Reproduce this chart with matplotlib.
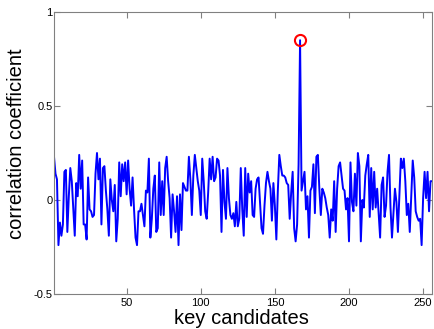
import numpy as np
import matplotlib
matplotlib.use("Agg")
import matplotlib.pyplot as plt

# correlation per key candidate, in chunks
corr_001_040 = [0.23, 0.14, 0.11, -0.24, -0.12, -0.19, -0.13, 0.15, 0.16, -0.17,
                0.02, 0.17, 0.10, -0.05, -0.19, 0.09, 0.02, 0.24, 0.06, 0.21,
                -0.13, -0.13, -0.21, 0.12, -0.05, -0.06, -0.09, -0.08, 0.14, 0.25,
                0.11, 0.22, -0.13, 0.17, 0.18, 0.05, -0.05, -0.19, 0.11, 0.00]
corr_041_083 = [-0.06, 0.08, -0.22, -0.10, 0.20, 0.02, 0.19, 0.10, 0.20, 0.03,
                0.21, 0.06, -0.03, 0.12, -0.05, -0.20, -0.24, -0.06, -0.06, -0.02,
                -0.08, -0.14, 0.05, 0.04, 0.22, -0.20, -0.10, 0.06, 0.13, -0.17,
                -0.15, 0.20, -0.08, 0.10, -0.08, 0.17, 0.23, 0.10, 0.01, -0.20,
                0.03, -0.06, -0.17]
corr_084_124 = [0.02, -0.24, 0.03, -0.16, 0.09, 0.07, 0.05, 0.05, 0.23, 0.11,
                -0.08, 0.13, 0.24, 0.17, 0.10, 0.05, -0.08, 0.22, 0.10, -0.06,
                -0.10, 0.04, 0.22, 0.11, 0.23, 0.10, 0.12, 0.22, 0.21, 0.13,
                -0.17, 0.16, -0.01, -0.10, 0.17, 0.01, -0.08, -0.10, -0.07, -0.14,
                -0.01]
corr_125_167 = [-0.14, -0.10, 0.17, -0.05, -0.19, 0.17, -0.09, 0.14, 0.04, 0.10,
                -0.08, -0.09, 0.06, 0.11, 0.12, -0.02, -0.15, -0.18, -0.03, 0.09,
                0.15, 0.10, 0.06, -0.11, 0.09, -0.03, -0.21, 0.05, 0.24, 0.18,
                0.13, 0.13, 0.12, 0.09, 0.08, -0.10, 0.04, 0.15, -0.15, -0.22,
                -0.13, 0.19, 0.85]
corr_168_208 = [0.05, 0.10, 0.15, -0.05, 0.02, -0.20, 0.05, 0.07, 0.19, -0.07,
                0.23, 0.24, 0.06, -0.08, 0.06, 0.04, 0.01, -0.04, -0.08, -0.20,
                -0.05, -0.11, 0.10, -0.17, 0.06, 0.18, 0.20, 0.13, 0.06, 0.05,
                -0.05, 0.01, -0.22, 0.20, -0.01, -0.06, 0.14, -0.03, 0.25, 0.18,
                -0.22]
corr_209_256 = [0.00, -0.04, 0.13, 0.19, 0.24, -0.09, 0.17, -0.05, 0.15, -0.04,
                0.06, -0.07, -0.20, 0.08, 0.12, -0.09, -0.03, 0.15, 0.24, -0.04,
                -0.20, -0.07, 0.06, -0.01, -0.17, 0.02, 0.22, 0.17, 0.22, 0.10,
                -0.08, -0.02, -0.17, 0.02, 0.21, 0.12, -0.06, -0.09, -0.11, -0.10,
                -0.24, 0.01, 0.15, 0.01, 0.15, -0.06, 0.10, 0.10]

corr = np.array(corr_001_040 + corr_041_083 + corr_084_124 +
                corr_125_167 + corr_168_208 + corr_209_256)
keys = np.arange(1, len(corr) + 1)
best = int(np.argmax(corr))

plt.rcParams['font.family'] = ['Liberation Sans', 'DejaVu Sans']

fig = plt.figure(figsize=(4.34, 3.29), dpi=100)
ax = fig.add_axes([54 / 434, 1 - 294 / 329, 378 / 434, 282 / 329])

ax.plot(keys, corr, color='#0000ff', lw=1.4)
ax.plot(keys[best], corr[best], 'o', mfc='none', mec='#ff0000', ms=8, mew=1.5)

ax.set_xlim(1, 256)
ax.set_ylim(-0.5, 1)
ax.set_xticks([50, 100, 150, 200, 250])
ax.set_yticks([-0.5, 0, 0.5, 1])
ax.set_yticklabels(['-0.5', '0', '0.5', '1'])

grey = '#808080'
for s in ax.spines.values():
    s.set_color(grey)
    s.set_linewidth(0.8)
ax.tick_params(direction='in', length=4, width=0.8, color=grey, labelsize=8,
               top=True, right=True)
ax.tick_params(axis='x', pad=3)
ax.tick_params(axis='y', pad=1)

ax.set_xlabel('key candidates', fontsize=14.5)
ax.set_ylabel('correlation coefficient', fontsize=14.5)
# label spots as measured on the reference (x centre 242px, top 309px / baseline 26px, centre 144px)
ax.xaxis.set_label_coords(0.497, -0.054)
ax.yaxis.set_label_coords(-0.074, 0.532)

fig.savefig('out.png', dpi=100)
